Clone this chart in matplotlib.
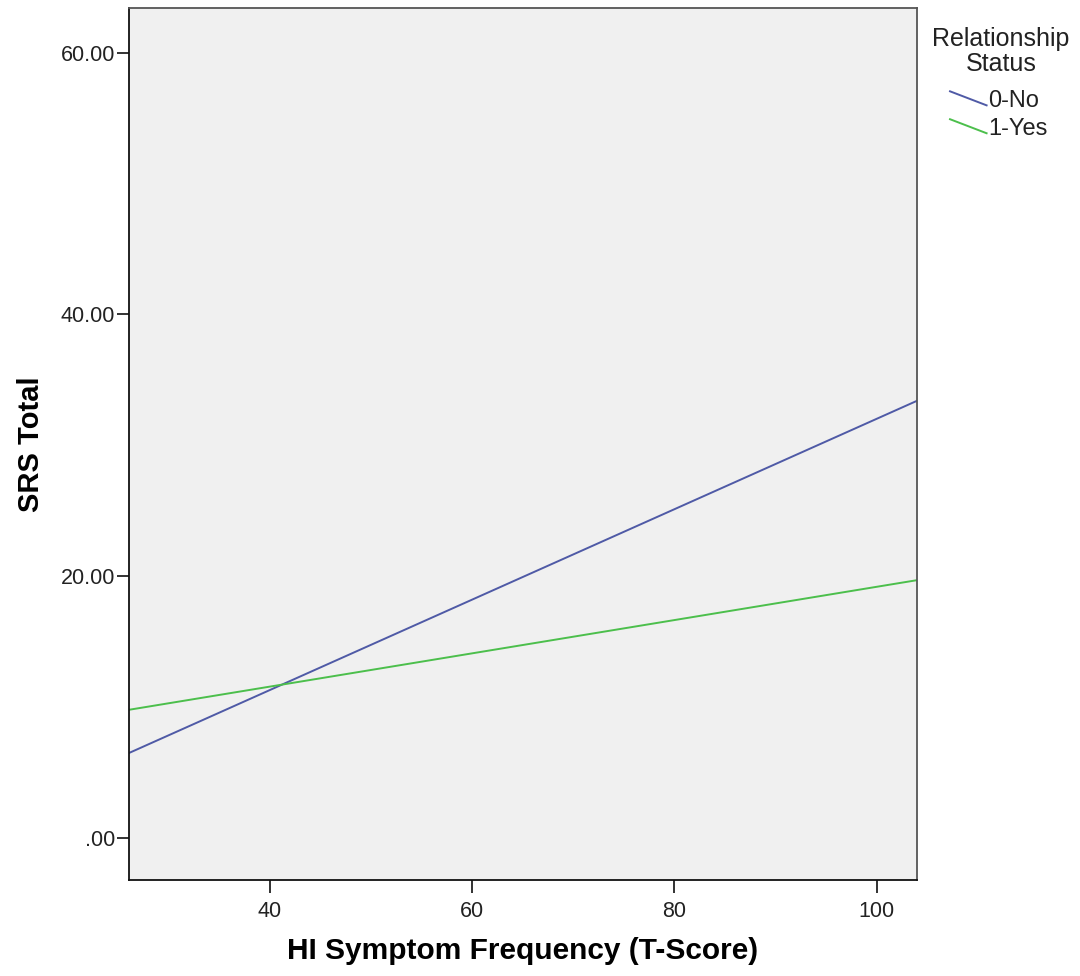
import matplotlib
matplotlib.use("Agg")
import matplotlib.pyplot as plt
from matplotlib.legend_handler import HandlerLine2D
from matplotlib.lines import Line2D

plt.rcParams['font.family'] = ['Liberation Sans', 'DejaVu Sans']

# Data (fit-line endpoints)
x_ends = [26.1, 104.0]
no_vals = [6.5, 33.4]
yes_vals = [9.8, 19.7]
series_names = ["0-No", "1-Yes"]
series_colors = ["#4f5aa6", "#4cbf4c"]
y_ticks = [0, 20, 40, 60]
y_tick_labels = [".00", "20.00", "40.00", "60.00"]
x_ticks = [40, 60, 80, 100]

fig = plt.figure(figsize=(10.8, 9.76), dpi=100)
ax = fig.add_axes([129/1080, 96/976, (917-129)/1080, (880-8)/976])
ax.set_facecolor("#f0f0f0")

l1, = ax.plot(x_ends, no_vals, color=series_colors[0], lw=1.4, label=series_names[0])
l2, = ax.plot(x_ends, yes_vals, color=series_colors[1], lw=1.4, label=series_names[1])

ax.set_xlim(26.1, 104.0)
ax.set_ylim(-3.2, 63.4)
ax.set_xticks(x_ticks)
ax.set_xticklabels([str(v) for v in x_ticks])
ax.set_yticks(y_ticks)
ax.set_yticklabels(y_tick_labels)
ax.tick_params(axis='both', direction='out', length=9, width=1.3, labelsize=15.5, colors='#222222')
ax.tick_params(axis='y', pad=1)
ax.tick_params(axis='x', pad=6)

for s in ['left', 'bottom']:
    ax.spines[s].set_color('#111111')
    ax.spines[s].set_linewidth(1.3)
for s in ['top', 'right']:
    ax.spines[s].set_color('#555555')
    ax.spines[s].set_linewidth(1.3)

ax.set_xlabel("HI Symptom Frequency (T-Score)", fontsize=21.5, fontweight='bold', labelpad=11)
ax.set_ylabel("SRS Total", fontsize=21, fontweight='bold', labelpad=11)


class SlantHandler(HandlerLine2D):
    def create_artists(self, legend, orig_handle, xdescent, ydescent, width, height, fontsize, trans):
        line = Line2D([0, width], [height * 0.95, height * 0.1],
                      color=orig_handle.get_color(), lw=orig_handle.get_linewidth())
        line.set_transform(trans)
        return [line]


fig.text(1001/1080, 1 - 27/976, "Relationship\nStatus", ha='center', va='top',
         fontsize=18, multialignment='center', linespacing=1.05, color='#222222')

leg = fig.legend(handles=[l1, l2], labels=series_names,
                 loc='upper left', bbox_to_anchor=(950/1080, 1 - 90/976),
                 frameon=False, fontsize=17, borderpad=0, borderaxespad=0,
                 handlelength=1.55, handletextpad=0.05, labelspacing=0.25,
                 handler_map={Line2D: SlantHandler()})
for t in leg.get_texts():
    t.set_color('#222222')

fig.savefig("out.png", dpi=100)
